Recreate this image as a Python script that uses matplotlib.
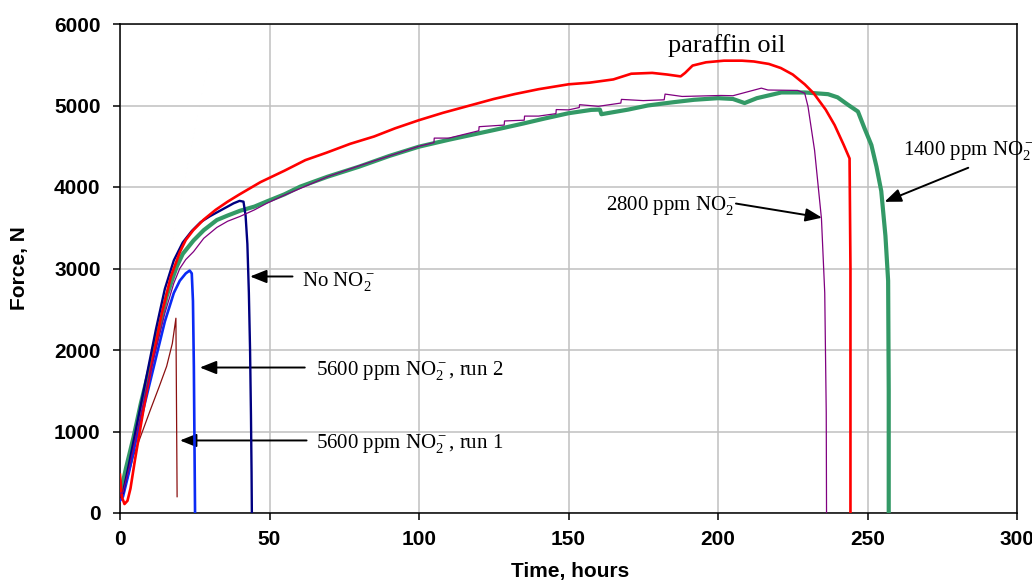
import matplotlib
matplotlib.use("Agg")
import matplotlib.pyplot as plt

# ---------------- data ----------------
paraffin_t = [0, 0.6, 1.5, 2.5, 3.5, 5, 8, 11, 14, 17, 20, 22, 24.5, 28, 32, 36, 40, 47, 55, 62,
              69, 77, 85, 92, 100, 108, 115, 120, 125, 132, 140, 145, 150, 157, 165, 171, 178,
              183, 187.5, 189, 191.5, 196, 202, 208, 212, 217, 221, 225, 229, 232, 236, 239,
              242, 244, 244.3, 244.3]
paraffin_f = [470, 200, 110, 150, 300, 650, 1300, 1900, 2450, 2900, 3200, 3350, 3470, 3600, 3720,
              3820, 3910, 4060, 4200, 4330, 4420, 4530, 4620, 4720, 4820, 4910, 4980, 5030, 5080,
              5140, 5200, 5230, 5260, 5280, 5320, 5390, 5400, 5380, 5357, 5400, 5490, 5530, 5550,
              5550, 5540, 5510, 5460, 5380, 5260, 5150, 4950, 4760, 4520, 4350, 3000, 0]

no_nitrite_t = [0, 1, 3, 6, 9, 12, 15, 18, 21, 24, 27, 30, 34, 38, 40, 41.3, 42, 42.6, 43.1,
                43.5, 43.8, 44.0, 44.1]
no_nitrite_f = [200, 250, 600, 1150, 1700, 2250, 2750, 3100, 3320, 3460, 3570, 3640, 3720, 3800,
                3830, 3820, 3650, 3300, 2700, 2000, 1200, 500, 0]

run2_t = [0, 1, 3, 6, 9, 12, 15, 18, 20, 22, 23.3, 24, 24.4, 24.7, 24.9, 25.1]
run2_f = [150, 200, 500, 1000, 1450, 1900, 2350, 2700, 2850, 2940, 2975, 2940, 2600, 1800, 900, 0]

run1_t = [0, 1, 2.5, 4.5, 7, 10, 13, 15.6, 17.5, 18.7, 19.1]
run1_f = [330, 280, 420, 700, 950, 1250, 1540, 1800, 2080, 2390, 200]

ppm1400_t = [0, 0.5, 2, 4.5, 7, 10, 13, 15.6, 17.5, 19, 21, 24.6, 28, 32.4, 36, 40.2, 45, 49.1,
             55, 60.3, 69.4, 80, 90, 100, 110, 125.2, 135, 142, 150, 157.6, 160.5, 161, 170,
             176.5, 185, 192, 200, 205, 208.9, 213, 221.2, 229, 236.8, 240, 243.5, 246.8, 249,
             251.3, 253, 254.6, 256, 256.9, 257.1, 257.1]
ppm1400_f = [250, 300, 550, 926, 1350, 1793, 2250, 2660, 2870, 3025, 3180, 3344, 3470, 3595,
             3650, 3709, 3760, 3823, 3910, 4005, 4126, 4250, 4380, 4495, 4580, 4700, 4780,
             4840, 4905, 4946, 4950, 4893, 4950, 5000, 5040, 5070, 5090, 5080, 5030, 5090,
             5160, 5160, 5139, 5100, 5008, 4926, 4720, 4515, 4250, 3950, 3400, 2850, 1500, 0]

ppm2800_t = [0, 1, 3, 6, 9, 12, 15, 18, 20, 22, 24.6, 28, 32.4, 36, 40.2, 45, 49.1, 55, 60.3,
             69.4, 80, 90, 100, 105, 105.1, 110, 120, 120.1, 128.5, 128.6, 135.2, 135.3, 140,
             145.8, 145.9, 150, 153.6, 153.7, 160, 167.5, 167.7, 175, 182, 182.3, 188, 201,
             205, 214.5, 216.7, 226.7, 229, 230.1, 232.3, 234.6, 235.7, 236.2, 236.3]
ppm2800_f = [240, 250, 550, 1050, 1550, 2000, 2450, 2820, 3000, 3110, 3207, 3370, 3504, 3580,
             3640, 3720, 3800, 3900, 3982, 4126, 4260, 4380, 4500, 4545, 4600, 4600, 4690,
             4740, 4760, 4810, 4820, 4870, 4870, 4900, 4950, 4946, 4975, 5010, 4990, 5030,
             5075, 5060, 5070, 5140, 5111, 5123, 5120, 5213, 5190, 5185, 5151, 4988, 4450,
             3612, 2700, 1235, 0]

x_ticks = [0, 50, 100, 150, 200, 250, 300]
y_ticks = [0, 1000, 2000, 3000, 4000, 5000, 6000]

# ---------------- figure ----------------
plt.rcParams['mathtext.fontset'] = 'custom'
plt.rcParams['mathtext.rm'] = 'Liberation Serif'
plt.rcParams['mathtext.it'] = 'Liberation Serif:italic'
plt.rcParams['mathtext.bf'] = 'Liberation Serif:bold'

fig = plt.figure(figsize=(10.32, 5.83), dpi=100)
ax = fig.add_axes([120 / 1032, 1 - 513 / 583, (1017 - 120) / 1032, (513 - 24) / 583])

ax.plot(run1_t, run1_f, color='#8B1010', lw=0.9, zorder=3)
ax.plot(run2_t, run2_f, color='#0A2AF5', lw=1.9, zorder=4)
ax.plot(no_nitrite_t, no_nitrite_f, color='#000080', lw=1.7, zorder=4)
ax.plot(ppm1400_t, ppm1400_f, color='#339966', lw=3.0, zorder=3)
ax.plot(ppm2800_t, ppm2800_f, color='#800080', lw=0.9, zorder=5)
ax.plot(paraffin_t, paraffin_f, color='#FF0000', lw=1.9, zorder=4)

ax.set_xlim(0, 300)
ax.set_ylim(0, 6000)
ax.set_xticks(x_ticks)
ax.set_yticks(y_ticks)
ax.grid(True, color='#C0C0C0', lw=1.1)
ax.set_axisbelow(True)
for s in ax.spines.values():
    s.set_linewidth(1.1)
    s.set_color('black')
ax.tick_params(axis='both', direction='out', length=5, width=1.1, labelsize=15)
ax.tick_params(axis='y', pad=9)
ax.tick_params(axis='x', pad=7)
for lab in ax.get_xticklabels() + ax.get_yticklabels():
    lab.set_fontweight('bold')
    lab.set_family('Liberation Sans')

fig.text(20 / 1032, 1 - 268 / 583, 'Force, N', rotation=90, ha='center', va='center',
         fontsize=15, fontweight='bold', family='Liberation Sans')
fig.text(570 / 1032, 1 - 572 / 583, 'Time, hours', ha='center', va='center',
         fontsize=15, fontweight='bold', family='Liberation Sans')

serif = dict(family='Liberation Serif', fontsize=15)
arrow = dict(arrowstyle='-|>,head_length=0.5,head_width=0.2', color='black', lw=1.4,
             shrinkA=0, shrinkB=0, mutation_scale=20)

ax.text(203, 5652, 'paraffin oil', ha='center', va='baseline', family='Liberation Serif',
        fontsize=19)

ax.annotate('', xy=(43.5, 2902), xytext=(57.7, 2902), arrowprops=arrow)
ax.text(61, 2783, r'No NO$_2^-$', ha='left', va='baseline', **serif)

ax.annotate('', xy=(26.7, 1785), xytext=(61.8, 1785), arrowprops=arrow)
ax.text(65.7, 1691, r'5600 ppm NO$_2^-$, run 2', ha='left', va='baseline', **serif)

ax.annotate('', xy=(20.05, 890), xytext=(62.4, 890), arrowprops=arrow)
ax.text(65.7, 800, r'5600 ppm NO$_2^-$, run 1', ha='left', va='baseline', **serif)

ax.annotate('', xy=(234.8, 3624), xytext=(206, 3797), arrowprops=arrow)
ax.text(162.5, 3714, r'2800 ppm NO$_2^-$', ha='left', va='baseline', **serif)

ax.annotate('', xy=(255.7, 3818), xytext=(283.7, 4236), arrowprops=arrow)
ax.text(262.0, 4392, r'1400 ppm NO$_2^-$', ha='left', va='baseline', **serif)

fig.savefig('out.png', dpi=100)
